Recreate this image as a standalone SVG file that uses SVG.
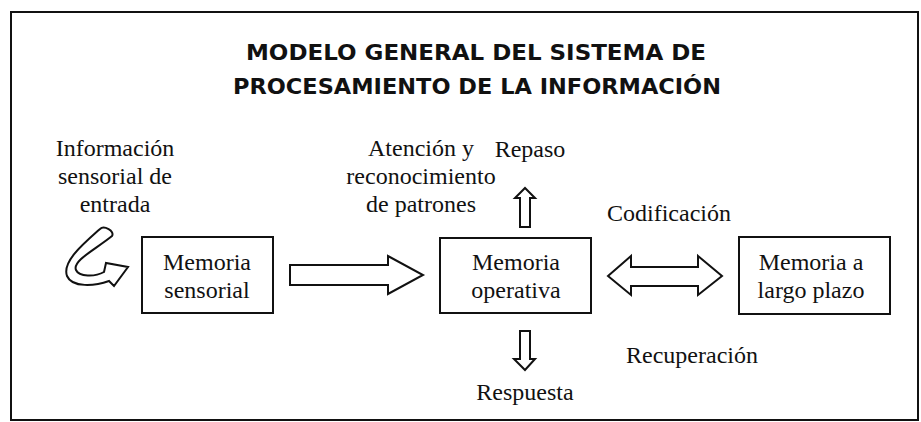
<svg xmlns="http://www.w3.org/2000/svg" width="921" height="422" viewBox="0 0 921 422">
<style>
.t{font-family:"Liberation Serif","Times New Roman",serif;font-size:24px;fill:#111;text-anchor:middle}
.title{font-family:"Comic Sans MS","DejaVu Sans",sans-serif;font-weight:bold;font-size:22px;fill:#111;text-anchor:middle}
.box{fill:#fff;stroke:#111;stroke-width:2}
.arr{fill:#fff;stroke:#111;stroke-width:2;stroke-linejoin:miter}
</style>
<rect x="0" y="0" width="921" height="422" fill="#fff"/>
<rect x="11" y="12" width="907" height="408" fill="none" stroke="#111" stroke-width="2"/>
<g id="title">
<text class="title" x="476" y="60" textLength="460" lengthAdjust="spacingAndGlyphs">MODELO GENERAL DEL SISTEMA DE</text>
<text class="title" x="477" y="94" textLength="488" lengthAdjust="spacingAndGlyphs">PROCESAMIENTO DE LA INFORMACIÓN</text>
</g>
<g id="entrada">
<text class="t" x="115" y="156">Información</text>
<text class="t" x="115" y="184">sensorial de</text>
<text class="t" x="115" y="212">entrada</text>
</g>
<g id="memoria-sensorial">
<rect class="box" x="142" y="237" width="131" height="76"/>
<text class="t" x="207" y="270">Memoria</text>
<text class="t" x="207" y="298">sensorial</text>
</g>
<g id="memoria-operativa">
<rect class="box" x="440" y="238" width="151" height="75"/>
<text class="t" x="516" y="270">Memoria</text>
<text class="t" x="516" y="298">operativa</text>
</g>
<g id="memoria-largo-plazo">
<rect class="box" x="739" y="237" width="151" height="77"/>
<text class="t" x="811" y="270">Memoria a</text>
<text class="t" x="811" y="298">largo plazo</text>
</g>
<g id="labels">
<text class="t" x="421" y="156">Atención y</text>
<text class="t" x="421" y="184">reconocimiento</text>
<text class="t" x="421" y="212">de patrones</text>
<text class="t" x="530" y="157">Repaso</text>
<text class="t" x="669" y="221">Codificación</text>
<text class="t" x="692" y="363">Recuperación</text>
<text class="t" x="525" y="400">Respuesta</text>
</g>
<g id="connectors">
<path class="arr" d="M112,236 C96,249 72,261 76,270 C79,277 95,277 104,272 L106,263 L128,267 L114,286 L109,281 C95,286 72,288 67,276 C62,262 82,245 100,229 C104,225 115,231 112,236 Z"/>
<path class="arr" d="M290,265 L388,265 L388,256 L423,275 L388,294 L388,285 L290,285 Z"/>
<path class="arr" d="M608,276 L631,256 L631,267 L698,267 L698,256 L722,276 L698,295 L698,286 L631,286 L631,295 Z"/>
<path class="arr" d="M520,227 L520,198 L515,198 L525,188 L535,198 L530,198 L530,227 Z"/>
<path class="arr" d="M520,331 L530,331 L530,359 L535,359 L525,370 L514,359 L520,359 Z"/>
</g>
</svg>
